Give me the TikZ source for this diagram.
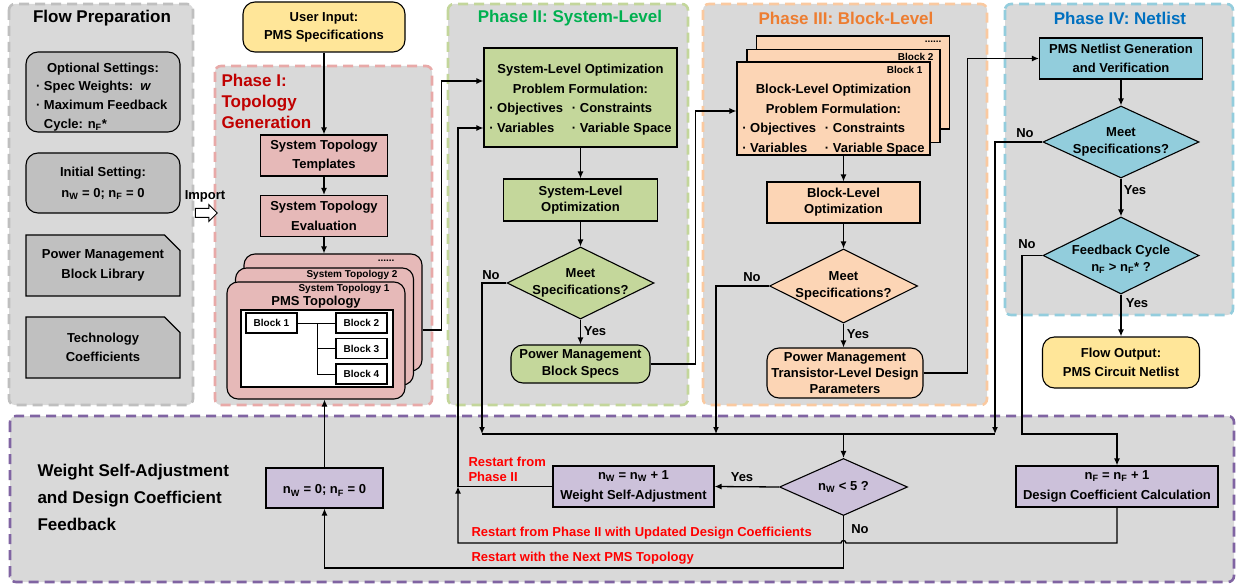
\documentclass[tikz,border=0pt]{standalone}
\usepackage{fontspec}
\setmainfont{Liberation Sans}
\usepackage{xcolor}
\usetikzlibrary{shapes.geometric, shapes.arrows, shapes.misc, arrows.meta, positioning, calc}

\definecolor{bggray}{HTML}{D9D9D9}
\definecolor{prepline}{HTML}{BFBFBF}
\definecolor{prepfill}{HTML}{C0C0C0}
\definecolor{ph1line}{HTML}{E8A9A8}
\definecolor{ph1fill}{HTML}{E6B9B8}
\definecolor{ph1dark}{HTML}{C00000}
\definecolor{ph2line}{HTML}{C3D69B}
\definecolor{ph2fill}{HTML}{C4D79B}
\definecolor{ph2dark}{HTML}{00B050}
\definecolor{ph3line}{HTML}{FAC9A0}
\definecolor{ph3fill}{HTML}{FCD5B5}
\definecolor{ph3dark}{HTML}{ED7D31}
\definecolor{ph4line}{HTML}{93CDDD}
\definecolor{ph4fill}{HTML}{92CDDC}
\definecolor{ph4dark}{HTML}{0070C0}
\definecolor{fbline}{HTML}{8064A2}
\definecolor{fbfill}{HTML}{CCC1DA}
\definecolor{inputyellow}{HTML}{FFE699}
\definecolor{restartred}{HTML}{FF0000}

\begin{document}
\begin{tikzpicture}[
    x=1pt, y=-1pt,
    every node/.style={font=\fontsize{13}{19.5}\selectfont\bfseries},
    container/.style={rounded corners=6pt, fill=bggray, line width=2.6pt, dash pattern=on 10pt off 6pt},
    block/.style={rectangle, draw, line width=1.1pt, align=center, inner sep=0pt, execute at begin node={\rule{0pt}{14pt}}},
    mini/.style={rectangle, draw, line width=1.1pt, fill=white, inner sep=0pt, minimum width=51pt, minimum height=20pt, font=\fontsize{10}{12}\selectfont\bfseries},
    card/.style={rectangle, draw, line width=1.1pt, rounded corners=11pt, inner sep=0pt},
    docnote/.style={chamfered rectangle, chamfered rectangle corners=north east, chamfered rectangle xsep=12pt, draw, line width=1.1pt, fill=prepfill, minimum width=154pt, minimum height=61pt, align=center, inner sep=0pt, execute at begin node={\rule{0pt}{14pt}}},
    decision/.style={diamond, draw, line width=1.1pt, inner sep=0pt},
    dtext/.style={align=center, font=\fontsize{13}{17}\selectfont\bfseries},
    tinytext/.style={font=\fontsize{10}{12}\selectfont\bfseries},
    heading/.style={font=\fontsize{17}{21}\selectfont\bfseries},
    redtext/.style={text=restartred, anchor=west, align=left, font=\fontsize{13}{15.5}\selectfont\bfseries},
    wire/.style={line width=1.3pt},
    arrow/.style={line width=1.3pt, -{Latex[length=7pt, width=6pt]}}
]
    \useasboundingbox (0,0) rectangle (1243,588);

    % Containers
    \draw[container, draw=prepline] (9,4) rectangle (193,405);
    \draw[container, draw=ph1line] (215,66) rectangle (432,405);
    \draw[container, draw=ph2line] (448,4) rectangle (688,405);
    \draw[container, draw=ph3line] (703,4) rectangle (987,405);
    \draw[container, draw=ph4line] (1005,4) rectangle (1233,315);
    \draw[container, draw=fbline] (10,416) rectangle (1234,582);

    \node (preptitle) [heading] at (102,18) {Flow Preparation};
    \node (ph1title) [heading, text=ph1dark, anchor=west, align=left] at (218,101) {Phase I:\\Topology\\Generation};
    \node (ph2title) [heading, text=ph2dark] at (570,18) {Phase II: System-Level};
    \node (ph3title) [heading, text=ph3dark] at (846,18) {Phase III: Block-Level};
    \node (ph4title) [heading, text=ph4dark] at (1120,18) {Phase IV: Netlist};
    \node (fbtitle) [heading, anchor=west, align=left, font=\fontsize{17}{27}\selectfont\bfseries] at (34,497) {Weight Self-Adjustment\\and Design Coefficient\\Feedback};

    % Flow preparation
    \node (opt) [block, fill=prepfill, rounded corners=12pt, minimum width=154pt, minimum height=80pt, align=left, font=\fontsize{13}{18.7}\selectfont\bfseries] at (103,92) {\makebox[134pt]{\rule{0pt}{19pt}Optional Settings:}\\· Spec Weights:\ \ \textit{w}\\· Maximum Feedback\\\phantom{· }Cycle: n\textsubscript{F}*};
    \node (init) [block, fill=prepfill, rounded corners=12pt, minimum width=154pt, minimum height=60pt, font=\fontsize{13}{21}\selectfont\bfseries] at (103,183) {Initial Setting:\\n\textsubscript{W} = 0; n\textsubscript{F} = 0};
    \node (lib) [docnote] at (103,265.5) {Power Management\\Block Library};
    \node (tech) [docnote] at (103,347.5) {Technology\\Coefficients};
    \node (imptext) at (205,196) {Import};
    \node (imp) [single arrow, draw, fill=white, line width=1pt, minimum height=22pt, inner sep=4pt, single arrow head extend=4pt] at (204,213) {};

    % Phase I
    \node (user) [block, fill=inputyellow, rounded corners=12pt, minimum width=162pt, minimum height=50pt, font=\fontsize{13}{18}\selectfont\bfseries] at (324,27) {User Input:\\PMS Specifications};
    \node (tmpl) [block, fill=ph1fill, minimum width=127pt, minimum height=41pt] at (324,155.5) {System Topology\\Templates};
    \node (eval) [block, fill=ph1fill, minimum width=127pt, minimum height=41pt] at (324,216) {System Topology\\Evaluation};
    \node (card3) [card, fill=ph1fill, minimum width=178pt, minimum height=117pt] at (333,312.5) {};
    \node (card2) [card, fill=ph1fill, minimum width=178pt, minimum height=117pt] at (324.5,326.5) {};
    \node (card1) [card, fill=ph1fill, minimum width=178pt, minimum height=117pt] at (316,340.5) {};
    \node (dots1) [tinytext, anchor=east] at (398,261) {......};
    \node (topo2) [tinytext, anchor=east] at (401,275) {System Topology 2};
    \node (topo1) [tinytext, anchor=east] at (393,289) {System Topology 1};
    \node (pms) at (316,302) {PMS Topology};
    \node (pmsin) [rectangle, draw, line width=1.1pt, fill=white, minimum width=152pt, minimum height=77pt] at (317,348.5) {};
    \node (b1) [mini] at (271.5,323) {Block 1};
    \node (b2) [mini] at (361.5,323) {Block 2};
    \node (b3) [mini] at (361.5,348.5) {Block 3};
    \node (b4) [mini] at (361.5,374) {Block 4};
    \coordinate (bj) at (317,323);
    \draw[line width=1pt] (b1) -- (b2);
    \draw[line width=1pt] (bj) |- (b3);
    \draw[line width=1pt] (bj) |- (b4);

    % Phase II
    \node (sysform) [block, fill=ph2fill, minimum width=193pt, minimum height=99pt] at (580.5,97.5) {};
    \node (sysformtxt) [align=center] at (580.5,101) {System-Level Optimization\\Problem Formulation:\\\begin{tabular}[t]{@{}l@{\hspace{9pt}}l@{}}· Objectives & · Constraints\\· Variables & · Variable Space\end{tabular}};
    \node (sysopt) [block, fill=ph2fill, minimum width=154pt, minimum height=42pt, font=\fontsize{13}{16}\selectfont\bfseries] at (580.5,200) {System-Level\\Optimization};
    \node (d2) [decision, fill=ph2fill, minimum width=147pt, minimum height=72pt] at (580.5,283) {};
    \node (d2t) [dtext] at (d2.center) {Meet\\Specifications?};
    \node (spec) [block, fill=ph2fill, rounded corners=12pt, minimum width=139pt, minimum height=38pt, font=\fontsize{13}{17}\selectfont\bfseries] at (580.5,364) {Power Management\\Block Specs};

    % Phase III
    \node (bcard3) [rectangle, draw, line width=1.1pt, fill=ph3fill, minimum width=193pt, minimum height=93pt] at (853,82.5) {};
    \node (bcard2) [rectangle, draw, line width=1.1pt, fill=ph3fill, minimum width=193pt, minimum height=93pt] at (843.5,96) {};
    \node (bform) [rectangle, draw, line width=1.1pt, fill=ph3fill, minimum width=193pt, minimum height=93pt] at (833.5,108.5) {};
    \node (dots2) [tinytext, anchor=east] at (945,42) {......};
    \node (blk2) [tinytext, anchor=east] at (937,57) {Block 2};
    \node (blk1) [tinytext, anchor=east] at (926,70) {Block 1};
    \node (bformtxt) [align=center] at (833.5,121) {Block-Level Optimization\\Problem Formulation:\\\begin{tabular}[t]{@{}l@{\hspace{9pt}}l@{}}· Objectives & · Constraints\\· Variables & · Variable Space\end{tabular}};
    \node (bopt) [block, fill=ph3fill, minimum width=153pt, minimum height=41pt, font=\fontsize{13}{16}\selectfont\bfseries] at (843.5,202.5) {Block-Level\\Optimization};
    \node (d3) [decision, fill=ph3fill, minimum width=148pt, minimum height=74pt] at (843.5,286) {};
    \node (d3t) [dtext] at (d3.center) {Meet\\Specifications?};
    \node (trans) [block, fill=ph3fill, rounded corners=12pt, minimum width=156pt, minimum height=50pt, font=\fontsize{13}{16}\selectfont\bfseries] at (845,373) {Power Management\\Transistor-Level Design\\Parameters};

    % Phase IV
    \node (netlist) [block, fill=ph4fill, minimum width=163pt, minimum height=41pt] at (1121,58.5) {PMS Netlist Generation\\and Verification};
    \node (d4) [decision, fill=ph4fill, minimum width=156pt, minimum height=72pt] at (1121,142) {};
    \node (d4t) [dtext] at (d4.center) {Meet\\Specifications?};
    \node (d5) [decision, fill=ph4fill, minimum width=156pt, minimum height=77pt] at (1121,255.5) {};
    \node (d5t) [dtext] at ([yshift=-4pt]d5.center) {Feedback Cycle\\n\textsubscript{F} > n\textsubscript{F}* ?};
    \node (out) [block, fill=inputyellow, rounded corners=12pt, minimum width=157pt, minimum height=51pt] at (1121,362.5) {Flow Output:\\PMS Circuit Netlist};

    % Feedback
    \node (init2) [block, fill=fbfill, minimum width=117pt, minimum height=40pt] at (324.5,488) {n\textsubscript{W} = 0; n\textsubscript{F} = 0};
    \node (wadj) [block, fill=fbfill, minimum width=161pt, minimum height=41pt] at (633.5,486.5) {n\textsubscript{W} = n\textsubscript{W} + 1\\Weight Self-Adjustment};
    \node (d6) [decision, fill=fbfill, minimum width=128pt, minimum height=57pt] at (843.5,487) {};
    \node (d6t) [dtext] at (d6.center) {n\textsubscript{W} < 5 ?};
    \node (nfbox) [block, fill=fbfill, minimum width=202pt, minimum height=41pt] at (1117,486.5) {n\textsubscript{F} = n\textsubscript{F} + 1\\Design Coefficient Calculation};
    \node (rs1) [redtext] at (465,469.5) {Restart from\\Phase II};
    \node (rs2) [redtext] at (468,533) {Restart from Phase II with Updated Design Coefficients};
    \node (rs3) [redtext] at (468,558) {Restart with the Next PMS Topology};

    % Yes / No
    \node (y2) at (595,331) {Yes};
    \node (n2) at (491,275) {No};
    \node (y3) at (858,334) {Yes};
    \node (n3) at (752,277) {No};
    \node (y4) at (1135,190) {Yes};
    \node (n4) at (1025,133) {No};
    \node (y5) at (1137,303) {Yes};
    \node (n5) at (1027,244) {No};
    \node (y6) at (742,477) {Yes};
    \node (n6) at (860,529) {No};

    % Connectors
    \coordinate (busA) at (482,434);
    \coordinate (busB) at (716,434);
    \coordinate (busC) at (995,434);
    \coordinate (fbturn) at (1022,434);
    \coordinate (j1) at (458,486.5);
    \coordinate (lowL) at (324.5,568);
    \coordinate (hopR) at (846,543);

    \draw [arrow] (user) -- (tmpl);
    \draw [arrow] (tmpl) -- (eval);
    \draw [arrow] (eval.south) -- (eval.south |- card3.north);
    \draw [arrow] ([yshift=-17.5pt]card3.east) -- ++(19,0) |- ([yshift=16.5pt]sysform.west);
    \draw [arrow] (sysform) -- (sysopt);
    \draw [arrow] (sysopt) -- (d2);
    \draw [arrow] (d2) -- (spec);
    \draw [arrow] (d2.west) -| (busA);
    \draw [arrow] (spec.east) -- ++(45,0) |- ([yshift=-2.5pt]bform.west);
    \draw [arrow] (bopt.north |- bform.south) -- (bopt.north);
    \draw [arrow] (bopt) -- (d3);
    \draw [arrow] (d3.south) -- (d3.south |- trans.north);
    \draw [arrow] (d3.west) -| (busB);
    \draw [arrow] (trans.east) -- ++(44,0) |- (netlist.west);
    \draw [arrow] (netlist) -- (d4);
    \draw [arrow] (d4) -- (d5);
    \draw [arrow] (d5) -- (out);
    \draw [arrow] (d4.west) -| (busC);
    \draw [arrow] (d5.west) -| (fbturn) -| (nfbox.north);
    \draw [wire] (busA) -- (busC);
    \draw [arrow] (d6.north |- busA) -- (d6.north);
    \draw [arrow] (d6.west) -- (wadj.east);
    \draw [wire] (wadj.west) -- (j1);
    \draw [arrow] (j1) |- ([yshift=-30.5pt]sysform.west);
    \draw [arrow] (nfbox.south) |- (hopR) arc[start angle=0, end angle=180, radius=2.5pt] -| (j1);
    \draw [arrow] (d6.south) |- (lowL) -- (init2.south);
    \draw [arrow] (init2.north) -- (init2.north |- card1.south);
\end{tikzpicture}
\end{document}
